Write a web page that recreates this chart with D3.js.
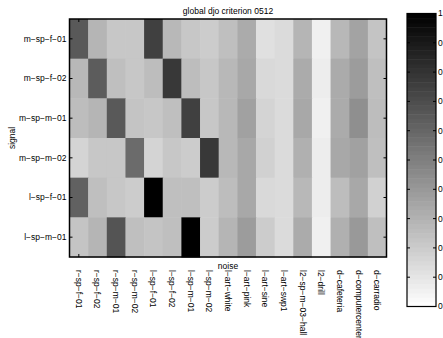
<!DOCTYPE html>
<html>
<head>
<meta charset="utf-8">
<script src="https://cdn.jsdelivr.net/npm/d3@7"></script>
<style>
  body { margin: 0; background: #fff; }
  svg { display: block; font-family: "Liberation Sans", Arial, sans-serif; }
</style>
</head>
<body>
<script>
// rows (signal) and columns (noise)
const signals = ["m-sp-f-01", "m-sp-f-02", "m-sp-m-01", "m-sp-m-02", "l-sp-f-01", "l-sp-m-01"]
const noises = ["r-sp-f-01", "r-sp-f-02", "r-sp-m-01", "r-sp-m-02", "l-sp-f-01", "l-sp-f-02",
    "l-sp-m-01", "l-sp-m-02", "l-art-white", "l-art-pink", "l-art-sine", "l-art-swp1",
    "l2-sp-m-03-hall", "l2-drill", "d-cafeteria", "d-computercenter", "d-carradio"]

// criterion values (0 = white, 1 = black)
const rowMspf01 = [0.65, 0.29, 0.22, 0.22, 0.75, 0.28, 0.22, 0.20, 0.25, 0.33, 0.12, 0.14, 0.29, 0.06, 0.28, 0.36, 0.23]
const rowMspf02 = [0.28, 0.64, 0.25, 0.22, 0.26, 0.78, 0.26, 0.22, 0.28, 0.34, 0.15, 0.14, 0.33, 0.07, 0.33, 0.39, 0.25]
const rowMspm01 = [0.26, 0.29, 0.65, 0.23, 0.22, 0.25, 0.75, 0.22, 0.28, 0.37, 0.17, 0.14, 0.34, 0.06, 0.33, 0.44, 0.26]
const rowMspm02 = [0.17, 0.22, 0.22, 0.58, 0.17, 0.22, 0.20, 0.78, 0.28, 0.34, 0.18, 0.14, 0.31, 0.07, 0.34, 0.37, 0.25]
const rowLspf01 = [0.62, 0.25, 0.22, 0.20, 1.00, 0.25, 0.25, 0.20, 0.26, 0.34, 0.15, 0.14, 0.28, 0.07, 0.26, 0.34, 0.18]
const rowLspm01 = [0.23, 0.29, 0.67, 0.25, 0.23, 0.25, 1.00, 0.20, 0.29, 0.39, 0.20, 0.14, 0.33, 0.06, 0.31, 0.40, 0.25]
const values = [rowMspf01, rowMspf02, rowMspm01, rowMspm02, rowLspf01, rowLspm01]

const colorbarTicks = [0, 0.1, 0.2, 0.3, 0.4, 0.5, 0.6, 0.7, 0.8, 0.9, 1]

const width = 443
const height = 338
const plot = { left: 69.5, top: 19, width: 317, height: 238 }
const cbar = { left: 407, top: 13.5, width: 29, height: 293 }

const dash = (s) => s.replace(/-/g, "\u2212")

const svg = d3.select("body").append("svg")
    .attr("width", width)
    .attr("height", height)

const x = d3.scaleBand().domain(noises).range([plot.left, plot.left + plot.width])
const y = d3.scaleBand().domain(signals).range([plot.top, plot.top + plot.height])
const color = d3.scaleLinear().domain([0, 1]).range(["#ffffff", "#000000"])

const cells = values.flatMap((row, i) => row.map((v, j) => ({ signal: signals[i], noise: noises[j], v })))

svg.append("g")
    .selectAll("rect")
    .data(cells)
    .join("rect")
    .attr("x", d => x(d.noise))
    .attr("y", d => y(d.signal))
    .attr("width", x.bandwidth() + 0.5)
    .attr("height", y.bandwidth() + 0.5)
    .attr("fill", d => color(d.v))

// y ticks, inward on both sides
const yTicks = svg.append("g").attr("stroke", "#000").attr("stroke-width", 1)
signals.forEach(s => {
    const yy = y(s) + y.bandwidth() / 2
    yTicks.append("line").attr("x1", plot.left).attr("x2", plot.left + 3).attr("y1", yy).attr("y2", yy)
    yTicks.append("line").attr("x1", plot.left + plot.width - 3).attr("x2", plot.left + plot.width).attr("y1", yy).attr("y2", yy)
})
// single x tick at first column
const x0 = x(noises[0]) + x.bandwidth() / 2
yTicks.append("line").attr("x1", x0).attr("x2", x0).attr("y1", plot.top).attr("y2", plot.top + 3)
yTicks.append("line").attr("x1", x0).attr("x2", x0).attr("y1", plot.top + plot.height - 3).attr("y2", plot.top + plot.height)

svg.append("rect")
    .attr("x", plot.left).attr("y", plot.top)
    .attr("width", plot.width).attr("height", plot.height)
    .attr("fill", "none").attr("stroke", "#000").attr("stroke-width", 1.5)

// y tick labels
svg.append("g")
    .attr("font-size", 8.5)
    .attr("text-anchor", "end")
    .selectAll("text")
    .data(signals)
    .join("text")
    .attr("x", plot.left - 3)
    .attr("y", d => y(d) + y.bandwidth() / 2)
    .attr("dy", "0.35em")
    .text(d => dash(d))

// x tick labels, rotated to read downwards
svg.append("g")
    .attr("font-size", 8.5)
    .selectAll("text")
    .data(noises)
    .join("text")
    .attr("transform", d => `translate(${x(d) + x.bandwidth() / 2},270) rotate(90)`)
    .attr("dy", "0.35em")
    .text(d => dash(d))

svg.append("text")
    .attr("x", 228).attr("y", 14)
    .attr("text-anchor", "middle")
    .attr("font-size", 8.5)
    .text("global djo criterion 0512")

svg.append("text")
    .attr("x", 228).attr("y", 269)
    .attr("text-anchor", "middle")
    .attr("font-size", 8.5)
    .text("noise")

svg.append("text")
    .attr("transform", `translate(15,${plot.top + plot.height / 2}) rotate(-90)`)
    .attr("text-anchor", "middle")
    .attr("font-size", 8.5)
    .text("signal")

// colorbar
const levels = d3.range(64)
const cy = d3.scaleLinear().domain([0, 1]).range([cbar.top + cbar.height, cbar.top])
svg.append("g")
    .selectAll("rect")
    .data(levels)
    .join("rect")
    .attr("x", cbar.left)
    .attr("y", d => cy((d + 1) / 64))
    .attr("width", cbar.width)
    .attr("height", cbar.height / 64 + 0.5)
    .attr("fill", d => color((d + 0.5) / 64))

const cbTickG = svg.append("g").attr("stroke", "#000").attr("stroke-width", 1)
colorbarTicks.forEach(t => {
    cbTickG.append("line").attr("x1", cbar.left).attr("x2", cbar.left + 3).attr("y1", cy(t)).attr("y2", cy(t))
    cbTickG.append("line").attr("x1", cbar.left + cbar.width - 3).attr("x2", cbar.left + cbar.width).attr("y1", cy(t)).attr("y2", cy(t))
})

svg.append("rect")
    .attr("x", cbar.left).attr("y", cbar.top)
    .attr("width", cbar.width).attr("height", cbar.height)
    .attr("fill", "none").attr("stroke", "#000").attr("stroke-width", 1.2)

svg.append("g")
    .attr("font-size", 8.5)
    .selectAll("text")
    .data(colorbarTicks)
    .join("text")
    .attr("x", cbar.left + cbar.width + 2)
    .attr("y", d => cy(d))
    .attr("dy", "0.35em")
    .text(d => d3.format("~g")(d))
</script>
</body>
</html>
